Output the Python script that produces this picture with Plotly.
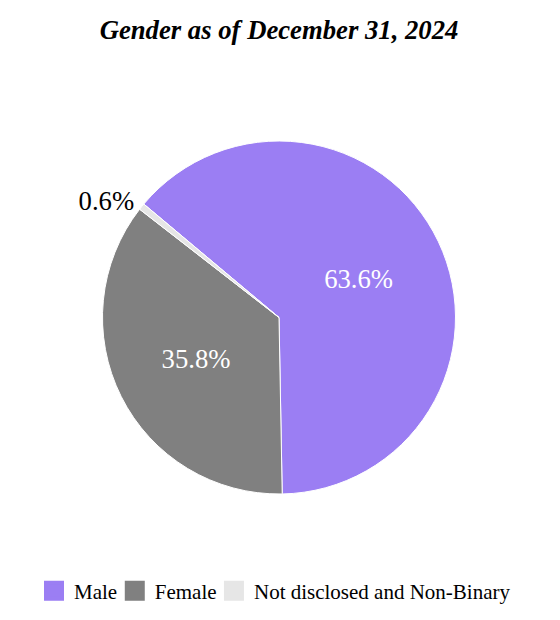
import plotly.graph_objects as go

labels = ["Male", "Female", "Not disclosed and Non-Binary"]
values = [63.6, 35.8, 0.6]
text_labels = ["63.6%", "35.8%", "0.6%"]
colors = ["#9b7ef3", "#808080", "#e6e6e6"]

FONT = "Liberation Serif"

fig = go.Figure()
fig.add_trace(go.Pie(
    labels=labels,
    values=values,
    text=text_labels,
    textinfo="text",
    sort=False,
    direction="clockwise",
    rotation=-50,
    marker=dict(colors=colors, line=dict(color="white", width=1)),
    textposition=["inside", "inside", "outside"],
    insidetextfont=dict(color="white", size=26.7, family=FONT),
    outsidetextfont=dict(color="black", size=26.7, family=FONT),
    insidetextorientation="horizontal",
    hoverinfo="label+percent",
    showlegend=False,
))

# legend entries with larger square swatches, one legend box per entry
legend_ids = ["legend", "legend2", "legend3"]
legend_x = [0.048, 0.197, 0.380]
for lab, col, lid in zip(labels, colors, legend_ids):
    fig.add_trace(go.Scatter(
        x=[None], y=[None], mode="markers", name=lab,
        marker=dict(symbol="square", size=16, color=col,
                    line=dict(color=col, width=4)),
        showlegend=True, hoverinfo="skip", legend=lid,
    ))

legend_common = dict(
    orientation="h",
    xanchor="left",
    y=-97/353, yanchor="middle",
    font=dict(size=21, family=FONT, color="black"),
    itemsizing="trace",
    bgcolor="rgba(0,0,0,0)",
)

fig.update_layout(
    width=560, height=620,
    margin=dict(l=0, r=18, t=133, b=134, autoexpand=False),
    paper_bgcolor="white",
    plot_bgcolor="white",
    font=dict(family=FONT, color="black"),
    xaxis=dict(visible=False),
    yaxis=dict(visible=False),
    title=dict(
        text="<b><i>Gender as of December 31, 2024</i></b>",
        x=271/560, xanchor="center",
        y=1 - 22/620, yanchor="middle",
        font=dict(size=26.7, family=FONT, color="black"),
    ),
    legend=dict(x=legend_x[0], **legend_common),
    legend2=dict(x=legend_x[1], **legend_common),
    legend3=dict(x=legend_x[2], **legend_common),
)

fig.write_html("out.html")
